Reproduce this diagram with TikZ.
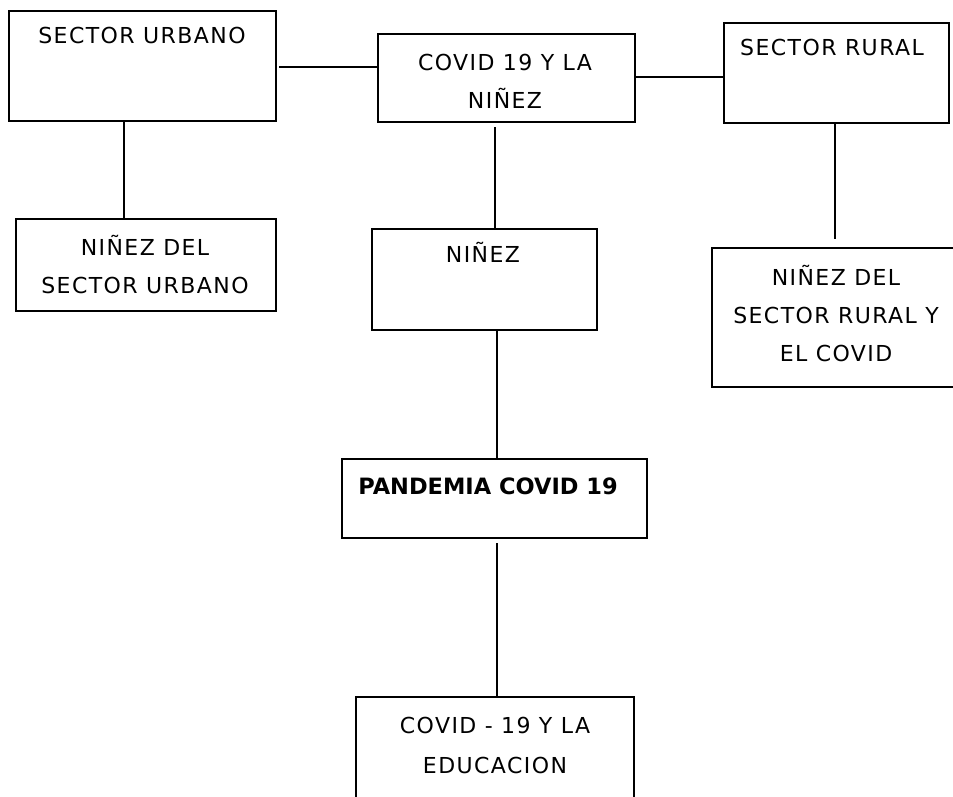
\documentclass[tikz,border=0pt]{standalone}
\usepackage{fontspec}
\setmainfont{DejaVu Sans}[LetterSpace=6.5]
\newfontfamily\boldfam{DejaVu Sans}
\begin{document}
\begin{tikzpicture}[x=1pt,y=-1pt,
  box/.style={draw, line width=1.2pt, inner sep=0pt},
  txt/.style={inner sep=0pt, anchor=base, align=center, font=\fontsize{22}{38}\selectfont},
  conn/.style={line width=1.2pt}
]
\useasboundingbox (0,0) rectangle (953,796);
\clip (0,0) rectangle (953,796);
\fill[white] (0,0) rectangle (953,796);
% boxes
\node[box, minimum width=267pt, minimum height=110pt] (A) at (142.5,66) {};
\node[box, minimum width=257pt, minimum height=88pt] (B) at (506.5,78) {};
\node[box, minimum width=225pt, minimum height=100pt] (C) at (836.5,73) {};
\node[box, minimum width=260pt, minimum height=92pt] (H) at (146,265) {};
\node[box, minimum width=225pt, minimum height=101pt] (D) at (484.5,279.5) {};
\node[box, minimum width=250pt, minimum height=139pt] (F) at (837,317.5) {};
\node[box, minimum width=305pt, minimum height=79pt] (E) at (494.5,498.5) {};
\node[box, minimum width=278pt, minimum height=130pt] (G) at (495,762) {};
% texts (base = baseline of last line)
\node[txt] (tA) at (142,43) {SECTOR URBANO};
\node[txt] (tB) at (505,108) {COVID 19 Y LA\\NIÑEZ};
\node[txt] (tC) at (832,55) {SECTOR RURAL};
\node[txt] (tH) at (145,293) {NIÑEZ DEL\\SECTOR URBANO};
\node[txt] (tD) at (483,262) {NIÑEZ};
\node[txt] (tF) at (836,361) {NIÑEZ DEL\\SECTOR RURAL Y\\EL COVID};
\node[inner sep=0pt, anchor=base, font=\boldfam\bfseries\fontsize{22.5}{26}\selectfont] (tE) at (488,494.5) {PANDEMIA COVID 19};
\node[txt, font=\fontsize{22}{40}\selectfont] (tG) at (495,773) {COVID - 19 Y LA\\EDUCACION};
% connectors
\coordinate (bA) at (279,67);
\coordinate (bB) at (495,127);
\coordinate (bC) at (835,239);
\coordinate (bE) at (497,543);
\draw[conn] (bA) -- (B.west |- bA);
\draw[conn] (B.east |- 0,77) -- (C.west |- 0,77);
\draw[conn] (C.south -| bC) -- (bC);
\draw[conn] (bB) -- (D.north -| bB);
\draw[conn] (D.south -| bE) -- (E.north -| bE);
\draw[conn] (bE) -- (G.north -| bE);
\draw[conn] (A.south -| 124,0) -- (H.north -| 124,0);
\end{tikzpicture}
\end{document}
